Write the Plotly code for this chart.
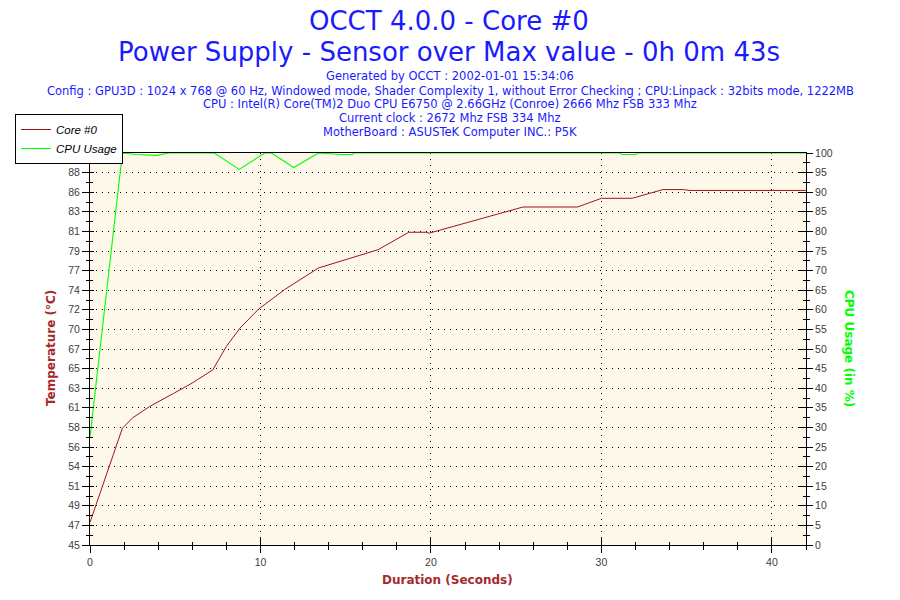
import plotly.graph_objects as go

# ---------------- data ----------------
time_temp = [0, 1.9, 2.5, 3.5, 4.9, 6.0, 7.2, 8.0, 8.8, 9.9, 11.4, 13.4, 14.9, 16.9,
             18.7, 19.7, 19.9, 24.8, 25.4, 28.6, 30.0, 31.8, 33.6, 34.8, 35.2, 42]
temp_core0 = [47.6, 58.4, 59.6, 60.9, 62.4, 63.6, 65.1, 67.8, 69.9, 72.1, 74.3, 76.8, 77.7, 78.9,
              80.9, 80.9, 80.8, 83.5, 83.8, 83.8, 84.8, 84.8, 85.8, 85.8, 85.7, 85.7]

time_cpu = [0, 1.9, 2.7, 3.9, 4.6, 7.3, 8.75, 10.25, 10.65, 11.95, 13.4, 14.7, 15.4, 15.5,
            31.1, 31.2, 32.0, 32.1, 42]
cpu_usage = [27.5, 100, 99.6, 99.4, 100, 100, 95.8, 100, 100, 96.3, 100, 99.6, 99.6, 100,
             100, 99.6, 99.6, 100, 100]

temp_tickvals = [45 + 2.25 * k for k in range(21)]
temp_ticktext = ["45", "47", "49", "51", "54", "56", "58", "61", "63", "65", "67",
                 "70", "72", "74", "77", "79", "81", "83", "86", "88", "90"]

title_lines = ["OCCT 4.0.0 - Core #0",
               "Power Supply - Sensor over Max value - 0h 0m 43s"]
info_lines = ["Generated by OCCT : 2002-01-01 15:34:06",
              "Config : GPU3D : 1024 x 768 @ 60 Hz, Windowed mode, Shader Complexity 1, without Error Checking ; CPU:Linpack : 32bits mode, 1222MB",
              "CPU : Intel(R) Core(TM)2 Duo CPU E6750 @ 2.66GHz (Conroe) 2666 Mhz FSB 333 Mhz",
              "Current clock : 2672 Mhz FSB 334 Mhz",
              "MotherBoard : ASUSTeK Computer INC.: P5K"]

# ---------------- layout geometry ----------------
W, H = 900, 600
L, R, T, B = 90, 94, 153, 55
PW, PH = W - L - R, H - T - B


def px(x):
    return (x - L) / PW


def py(y):
    return (H - B - y) / PH


BLUE = "#1a1aff"
RED = "#9e1515"
GREEN = "#00ff00"
BROWN = "#a52a2a"
TICKFONT = dict(family="Liberation Sans", size=10.5, color="#404040")

fig = go.Figure()
fig.add_trace(go.Scatter(x=time_temp, y=temp_core0, mode="lines", name="Core #0",
                         line=dict(color=RED, width=1), xaxis="x", yaxis="y"))
fig.add_trace(go.Scatter(x=time_cpu, y=cpu_usage, mode="lines", name="CPU Usage",
                         line=dict(color=GREEN, width=1.1), xaxis="x", yaxis="y2"))
# empty helper traces so that the overlay (inside-tick) axes get drawn
fig.add_trace(go.Scatter(x=[], y=[], showlegend=False, hoverinfo="skip", xaxis="x2", yaxis="y3"))
fig.add_trace(go.Scatter(x=[], y=[], showlegend=False, hoverinfo="skip", xaxis="x2", yaxis="y4"))

annotations = []
for txt, ypx in zip(title_lines, [21, 52]):
    annotations.append(dict(text=txt, x=px(449), y=py(ypx), xref="paper", yref="paper",
                            xanchor="center", yanchor="middle", showarrow=False,
                            font=dict(family="DejaVu Sans", size=26, color=BLUE)))
for txt, ypx in zip(info_lines, [76, 91, 104.5, 118, 132]):
    annotations.append(dict(text=txt, x=px(450), y=py(ypx), xref="paper", yref="paper",
                            xanchor="center", yanchor="middle", showarrow=False,
                            font=dict(family="DejaVu Sans", size=11.5, color=BLUE)))
annotations.append(dict(text="<b>Temperature (°C)</b>", x=px(51), y=py(348), xref="paper",
                        yref="paper", xanchor="center", yanchor="middle", showarrow=False,
                        textangle=-90, font=dict(family="DejaVu Sans", size=12, color=BROWN)))
annotations.append(dict(text="<b>CPU Usage (in %)</b>", x=px(849), y=py(348), xref="paper",
                        yref="paper", xanchor="center", yanchor="middle", showarrow=False,
                        textangle=90, font=dict(family="DejaVu Sans", size=12, color=GREEN)))
annotations.append(dict(text="<b>Duration (Seconds)</b>", x=px(447), y=py(580), xref="paper",
                        yref="paper", xanchor="center", yanchor="middle", showarrow=False,
                        font=dict(family="DejaVu Sans", size=12, color=BROWN)))

fig.update_layout(
    width=W, height=H,
    margin=dict(l=L, r=R, t=T, b=B),
    paper_bgcolor="white",
    plot_bgcolor="#fdf8ea",
    showlegend=True,
    legend=dict(x=px(15), y=py(114), xanchor="left", yanchor="top",
                bgcolor="white", bordercolor="black", borderwidth=1,
                font=dict(family="Liberation Sans", size=11.5, color="black", style="italic"),
                itemwidth=30, tracegroupgap=0),
    annotations=annotations,
    xaxis=dict(range=[0, 42], tick0=0, dtick=10, ticks="outside", ticklen=7, tickwidth=1,
               tickcolor="black", showline=True, linecolor="black", linewidth=1, mirror=True,
               showgrid=True, gridcolor="black", gridwidth=1, griddash="1px,5px",
               zeroline=False, tickfont=TICKFONT,
               minor=dict(dtick=2, ticks="outside", ticklen=4, tickcolor="black", showgrid=False)),
    xaxis2=dict(range=[0, 42], overlaying="x", anchor="y", side="bottom", tick0=0, dtick=10,
                ticks="inside", ticklen=7, tickcolor="black", showticklabels=False,
                showgrid=False, zeroline=False, showline=False,
                minor=dict(dtick=2, ticks="inside", ticklen=3, tickcolor="black", showgrid=False)),
    yaxis=dict(range=[45, 90], tickmode="array", tickvals=temp_tickvals, ticktext=temp_ticktext,
               ticks="outside", ticklen=7, tickcolor="black", showline=True, linecolor="black",
               linewidth=1, showgrid=True, gridcolor="black", gridwidth=1, griddash="1px,5px",
               zeroline=False, tickfont=TICKFONT,
               minor=dict(dtick=1.125, tick0=45, ticks="outside", ticklen=3, tickcolor="black",
                          showgrid=False)),
    yaxis2=dict(range=[0, 100], overlaying="y", side="right", anchor="x", tick0=0, dtick=5,
                ticks="outside", ticklen=6, tickcolor="black", showline=True, linecolor="black",
                linewidth=1, showgrid=False, zeroline=False, tickfont=TICKFONT,
                minor=dict(dtick=2.5, ticks="outside", ticklen=3, tickcolor="black")),
    yaxis3=dict(range=[45, 90], overlaying="y", side="left", anchor="x2", tickmode="array",
                tickvals=temp_tickvals, ticks="inside", ticklen=4, tickcolor="black",
                showticklabels=False, showgrid=False, zeroline=False, showline=False,
                minor=dict(dtick=1.125, tick0=45, ticks="inside", ticklen=3, tickcolor="black")),
    yaxis4=dict(range=[0, 100], overlaying="y", side="right", anchor="x2", tick0=0, dtick=5,
                ticks="inside", ticklen=7, tickcolor="black", showticklabels=False,
                showgrid=False, zeroline=False, showline=False,
                minor=dict(dtick=2.5, ticks="inside", ticklen=3, tickcolor="black")),
)

fig.write_html("out.html", config={"displayModeBar": False},
               post_script="document.body.style.margin='0px';document.body.style.padding='0px';")
